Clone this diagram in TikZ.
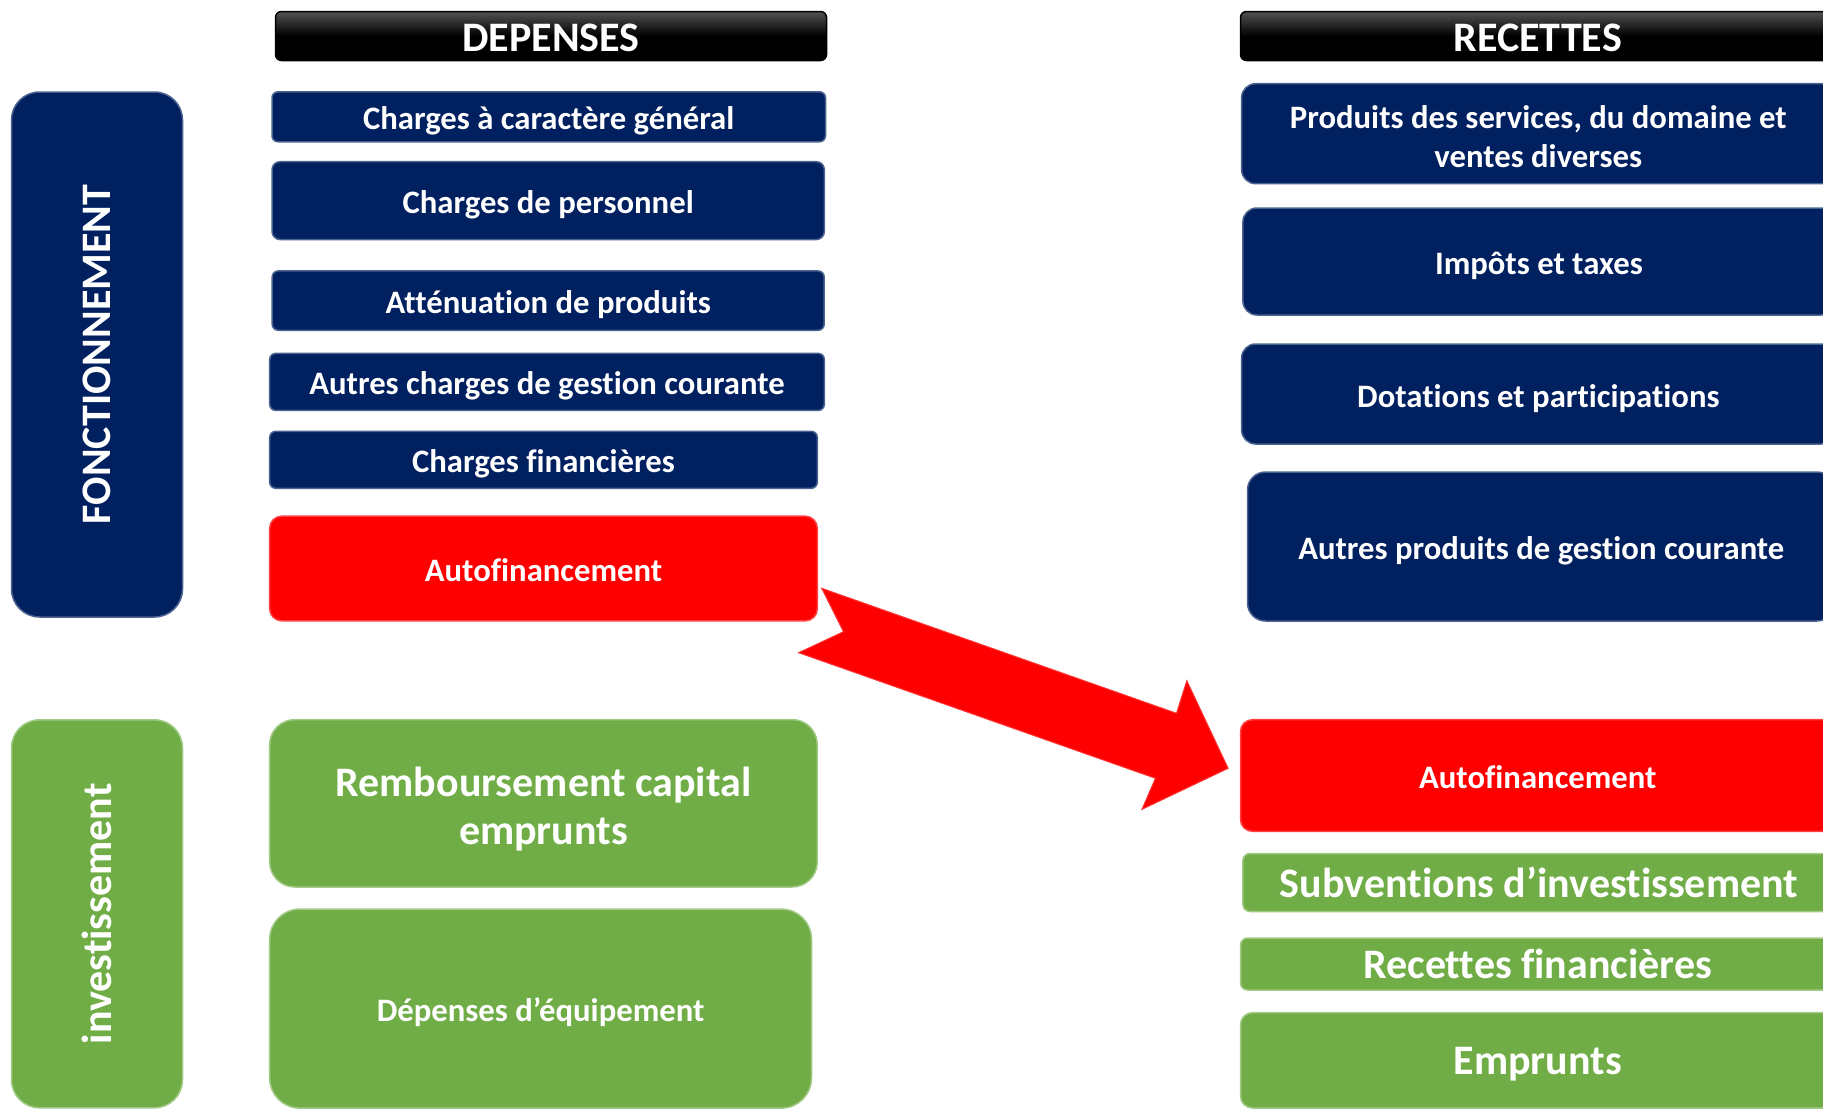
\documentclass[tikz,border=0pt]{standalone}
\usepackage{fontspec}
\setmainfont{Carlito}[Ligatures={TeX,NoCommon}]
\definecolor{navy}{HTML}{002060}
\definecolor{grn}{HTML}{70AD47}
\definecolor{rd}{HTML}{FF0000}
\tikzset{
  base/.style={text=white, font=\bfseries\fontsize{32.7}{39}\selectfont, align=center, inner sep=0pt,
    line width=1.5pt},
  one/.style={text height=27pt, text depth=1pt},
  onebig/.style={text height=30pt, text depth=1pt},
  navybox/.style={base, fill=navy, draw=navy!70!white},
  redbox/.style={base, fill=rd, draw=rd!75!white},
  greenbox/.style={base, fill=grn, draw=grn!65!white},
  headbox/.style={base, top color=black!68, bottom color=black, middle color=black, draw=black,
    font=\bfseries\fontsize{42}{46}\selectfont},
  big/.style={font=\bfseries\fontsize{42}{48}\selectfont},
  vert/.style={font=\bfseries\fontsize{42}{46}\selectfont, rotate=90},
  arrowshape/.style={fill=rd, draw=rd!80!white, line width=1pt, line join=miter},
}
\begin{document}
\begin{tikzpicture}[x=1pt, y=-1pt]
\useasboundingbox (0,0) rectangle (1823,1109);
\clip (0,0) rectangle (1823,1109);
% category bars
\node[navybox, vert, minimum width=525pt, minimum height=171pt, rounded corners=28pt] (fo) at (97,354.5) {FONCTIONNEMENT};
\node[greenbox, vert, minimum width=388pt, minimum height=171pt, rounded corners=28pt] (inv) at (97,913.8) {investissement};
% headers
\node[headbox, minimum width=551pt, minimum height=49pt, rounded corners=6pt] (dep) at (551,36) {\rule{0pt}{32pt}DEPENSES};
\node[headbox, minimum width=594.5pt, minimum height=49pt, rounded corners=6pt] (rec) at (1537.75,36) {\rule{0pt}{32pt}RECETTES};
% depenses
\node[navybox, one, minimum width=553.5pt, minimum height=50pt, rounded corners=6pt] (cg) at (548.75,116.8) {Charges à caractère général};
\node[navybox, one, minimum width=552.3pt, minimum height=77.9pt, rounded corners=8pt] (cp) at (548.2,200.6) {Charges de personnel};
\node[navybox, one, minimum width=552pt, minimum height=59.3pt, rounded corners=6pt] (at) at (548.2,300.6) {Atténuation de produits};
\node[navybox, one, minimum width=554.6pt, minimum height=57pt, rounded corners=6pt] (ac) at (547,381.9) {Autres charges de gestion courante};
\node[navybox, one, minimum width=547.6pt, minimum height=57pt, rounded corners=6pt] (cf) at (543.5,459.8) {Charges financières};
\node[redbox, one, minimum width=547.6pt, minimum height=104.6pt, rounded corners=12pt] (afl) at (543.5,568.5) {Autofinancement};
\node[greenbox, big, minimum width=547.6pt, minimum height=167.4pt, rounded corners=25pt] (rce) at (543.5,803.3) {\rule{0pt}{41pt}Remboursement capital\\emprunts};
\node[greenbox, one, minimum width=541.8pt, minimum height=199pt, rounded corners=30pt] (de) at (540.6,1008.6) {Dépenses d’équipement};
% recettes
\node[navybox, minimum width=593.4pt, minimum height=100pt, rounded corners=14pt] (pr) at (1538.3,133.7) {\rule{0pt}{29pt}Produits des services, du domaine et\\ventes diverses};
\node[navybox, one, minimum width=592pt, minimum height=107pt, rounded corners=14pt] (im) at (1538.9,261.5) {Impôts et taxes};
\node[navybox, one, minimum width=593.4pt, minimum height=100pt, rounded corners=14pt] (do) at (1538.3,394) {Dotations et participations};
\node[navybox, one, minimum width=587.5pt, minimum height=149pt, rounded corners=18pt] (ap) at (1541.25,546.5) {Autres produits de gestion courante};
\node[redbox, one, minimum width=594.5pt, minimum height=111.7pt, rounded corners=12pt] (afr) at (1537.75,775.5) {Autofinancement};
\node[greenbox, big, onebig, minimum width=592pt, minimum height=58pt, rounded corners=7pt] (su) at (1538.9,882.5) {Subventions d’investissement};
\node[greenbox, big, onebig, minimum width=594.5pt, minimum height=52pt, rounded corners=7pt] (rf) at (1537.75,964) {Recettes financières};
\node[greenbox, big, onebig, minimum width=594.5pt, minimum height=95.4pt, rounded corners=12pt] (em) at (1537.75,1060.3) {Emprunts};
% block arrow from autofinancement (left) to autofinancement (right)
\coordinate (t1) at (821.7,588.3);
\coordinate (h1) at (1176.5,713.3);
\coordinate (b1) at (1186.8,680.7);
\coordinate (tip) at (1228.1,768.3);
\coordinate (b2) at (1142,809.3);
\coordinate (h2) at (1155.4,778.3);
\coordinate (t2) at (798.7,652.7);
\coordinate (nt) at (843.5,631.7);
\filldraw[arrowshape] (t1) -- (h1) -- (b1) -- (tip) -- (b2) -- (h2) -- (t2) -- (nt) -- cycle;
\end{tikzpicture}
\end{document}
